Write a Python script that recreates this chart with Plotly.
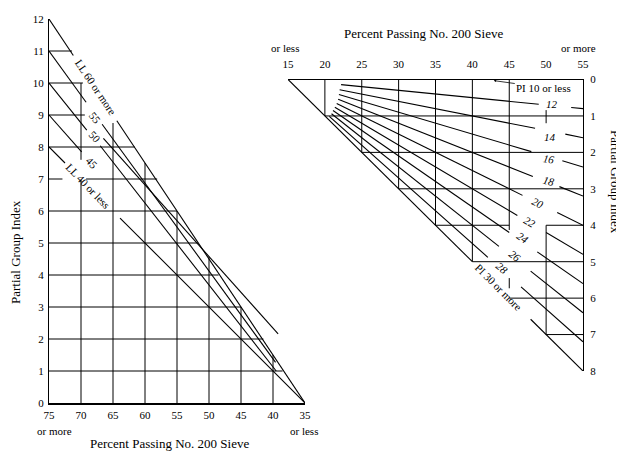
import plotly.graph_objects as go

W, H = 624, 452
OFF = 8  # the page body margin shifts the figure by 8 px
SERIF = "Liberation Serif"

# ---- left chart: partial group index from liquid limit ----
ll_labels = ['LL 60 or more', '55', '50', '45', 'LL 40 or less']
ll_label_f = [67.7, 67.8, 67.8, 68.3, 68.9]
ll_label_gi = [9.88, 8.9, 8.31, 7.5, 6.78]
ll_label_angle = [56, 52, 48, 46, 46]
# every diagonal is broken where its label sits: head piece + tail piece
ll_head_f = [[75, 71.2], [75, 69.2], [75, 69.1], [75, 69.9], [75, 72.5]]
ll_head_gi = [[12, 10.86], [11, 9.40], [10, 8.53], [9, 7.85], [8, 7.5]]
ll_tail_f = [[64.4, 35], [66.7, 39.6], [66.5, 39.2], [67.0, 39.5], [63.9, 35]]
ll_tail_gi = [[8.82, 0], [8.71, 1.27], [8.27, 2.16], [8.04, 1.0], [5.78, 0]]

# grid pieces (value, from, to)
left_rows = [(1, 75, 38.5), (2, 75, 41.5), (3, 75, 45), (4, 75, 48.5), (5, 75, 51.7),
             (6, 75, 55), (7, 75, 72.9), (7, 69.2, 58.1), (8, 75, 61.6), (9, 75, 69.4),
             (10, 75, 69.7), (11, 75, 71.4)]
left_cols = [(70, 0, 6.97), (70, 7.6, 10), (65, 0, 8.75), (60, 0, 7.5), (55, 0, 6),
             (50, 0, 4.57), (45, 0, 3), (40, 0, 1.5)]
left_ticks_f = [75, 70, 65, 60, 55, 50, 45, 40, 35]
left_ticks_gi = list(range(0, 13))

# ---- right chart: partial group index from plasticity index ----
pi_labels = ['<i>12</i>', '<i>14</i>', '<i>16</i>', '<i>18</i>', '<i>20</i>',
             '<i>22</i>', '<i>24</i>', '<i>26</i>', '<i>28</i>', 'PI 30 or more']
pi_label_f = [50.8, 50.5, 50.4, 50.4, 48.9, 47.8, 46.9, 45.8, 44.0, 43.5]
pi_label_gi = [0.67, 1.57, 2.18, 2.79, 3.39, 3.91, 4.35, 4.85, 5.18, 5.70]
pi_label_angle = [0, 0, 10, 14, 25, 30, 35, 38, 40, 45]
pi_head_f = [[22.2, 49.0], [22.0, 48.5], [21.9, 48.0], [21.8, 48.2], [21.6, 46.8],
             [21.35, 46.1], [21.1, 45.0], [20.9, 43.6], [20.6, 42.1], [15, 40.0]]
pi_head_gi = [[0.14, 0.68], [0.28, 1.34], [0.41, 1.98], [0.54, 2.66], [0.66, 3.18],
              [0.76, 3.73], [0.85, 4.20], [0.94, 4.58], [1.01, 4.88], [0, 5.0]]
pi_tail_f = [[53.4, 55], [52.6, 55], [52.2, 55], [51.8, 55], [51.5, 55],
             [50.0, 55], [48.8, 55], [47.9, 55], [46.6, 55], [47.9, 55]]
pi_tail_gi = [[0.77, 0.8], [1.50, 1.6], [2.23, 2.4], [2.94, 3.2], [3.65, 4.0],
              [4.20, 4.8], [4.73, 5.6], [5.26, 6.4], [5.69, 7.2], [6.58, 8.0]]

right_rows = [(1, 20, 55), (2, 25, 55), (3, 30, 55), (4, 35, 45), (4, 50, 55),
              (5, 40, 55), (6, 45, 55), (7, 50, 55)]
right_cols = [(20, 0, 1), (25, 0, 2), (30, 0, 3), (35, 0, 4), (40, 0, 5),
              (45, 0, 4.13), (45, 5.45, 5.73), (50, 0.84, 1.2), (50, 4, 7)]
right_ticks_f = [15, 20, 25, 30, 35, 40, 45, 50, 55]
right_ticks_gi = list(range(0, 9))


def px(x):
    return (x - OFF) / W


def py(y):
    return (H - (y - OFF)) / H


def join(xs_list, ys_list):
    xs, ys = [], []
    for a, b in zip(xs_list, ys_list):
        xs += list(a) + [None]
        ys += list(b) + [None]
    return xs, ys


def grid(rows, cols):
    xs, ys = [], []
    for v, a, b in rows:
        xs += [a, b, None]
        ys += [v, v, None]
    for v, a, b in cols:
        xs += [v, v, None]
        ys += [a, b, None]
    return xs, ys


def lines(xs, ys, xa, ya, width=1):
    return go.Scatter(x=xs, y=ys, mode='lines', xaxis=xa, yaxis=ya,
                      line=dict(color='black', width=width),
                      hoverinfo='skip', showlegend=False)


fig = go.Figure()

gx, gy = grid(left_rows, left_cols)
fig.add_trace(lines(gx, gy, 'x', 'y'))
dx, dy = join(ll_head_f + ll_tail_f, ll_head_gi + ll_tail_gi)
fig.add_trace(lines(dx, dy, 'x', 'y', 1.1))

gx, gy = grid(right_rows, right_cols)
fig.add_trace(lines(gx, gy, 'x2', 'y2'))
dx, dy = join(pi_head_f + pi_tail_f, pi_head_gi + pi_tail_gi)
fig.add_trace(lines(dx, dy, 'x2', 'y2', 1.1))

tickfont = dict(family=SERIF, size=11, color='black')
titlefont = dict(family=SERIF, size=13, color='black')
axis_common = dict(showgrid=False, zeroline=False, ticks='', showline=True,
                   linecolor='black', tickfont=tickfont, automargin=False)


def note(text, x, y, xref='paper', yref='paper', font=tickfont, **kw):
    return dict(text=text, x=x, y=y, xref=xref, yref=yref, showarrow=False,
                xanchor='center', yanchor='middle', font=font, **kw)


ann = []
for t, f, g, a in zip(ll_labels, ll_label_f, ll_label_gi, ll_label_angle):
    ann.append(note(t, f, g, 'x', 'y', textangle=a))
for t, f, g, a in zip(pi_labels, pi_label_f, pi_label_gi, pi_label_angle):
    ann.append(note(t, f, g, 'x2', 'y2', textangle=a))
ann.append(dict(text='PI 10 or less', x=42.9, y=0.03, xref='x2', yref='y2',
                ax=50, ay=7, showarrow=True, arrowhead=2, arrowsize=0.6, arrowwidth=0.8,
                arrowcolor='black', font=tickfont))

ann += [
    note('Percent Passing No. 200 Sieve', px(169), py(443), font=titlefont),
    note('Partial Group Index', px(16), py(252), font=titlefont, textangle=-90),
    note('Percent Passing No. 200 Sieve', px(423), py(33), font=titlefont),
    note('Partial Group Index', px(616), py(182), font=titlefont, textangle=90),
    note('or more', px(54), py(431)),
    note('or less', px(304), py(431)),
    note('or less', px(285), py(48)),
    note('or more', px(578), py(48)),
]

fig.update_layout(
    width=W, height=H,
    margin=dict(l=0, r=0, t=0, b=0, autoexpand=False),
    paper_bgcolor='white',
    plot_bgcolor='rgba(0,0,0,0)',
    showlegend=False,
    xaxis=dict(domain=[px(49), px(305)], range=[75, 35], anchor='y',
               tickvals=left_ticks_f, linewidth=2, ticklabelstandoff=1, **axis_common),
    yaxis=dict(domain=[py(403), py(19)], range=[0, 12], anchor='x',
               tickvals=left_ticks_gi, linewidth=1, ticklabelstandoff=2, **axis_common),
    xaxis2=dict(domain=[px(288), px(583)], range=[15, 55], anchor='y2', side='top',
                tickvals=right_ticks_f, linewidth=1, ticklabelstandoff=6, **axis_common),
    yaxis2=dict(domain=[py(371), py(79.5)], range=[8, 0], anchor='x2',
                side='right', tickvals=right_ticks_gi, linewidth=1, ticklabelstandoff=4,
                **axis_common),
    annotations=ann,
)

fig.write_html("out.html")
